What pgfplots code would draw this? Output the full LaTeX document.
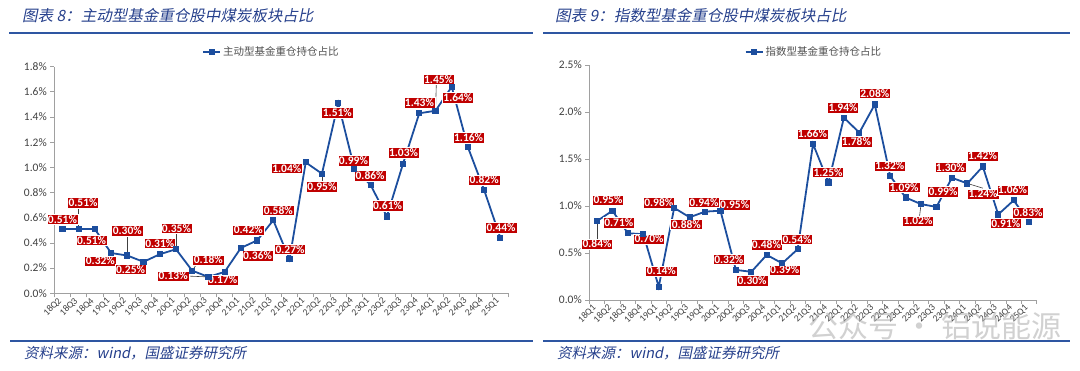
\documentclass[border=0pt]{standalone}
\usepackage{pgfplots}
\pgfplotsset{compat=1.18}
\usepackage{fontspec}
\setmainfont{Carlito}
\newfontfamily\cjk{Noto Sans CJK SC}
\newfontfamily\cjkslant{Noto Sans CJK SC}[FakeSlant=0.2]
\definecolor{lineblue}{RGB}{28,78,158}
\definecolor{lblred}{RGB}{192,0,0}
\definecolor{titleblue}{RGB}{38,64,140}
\definecolor{ruleblue}{RGB}{46,86,162}
\definecolor{axgray}{RGB}{160,160,160}
\definecolor{labgray}{RGB}{64,64,64}
\definecolor{leggray}{RGB}{80,80,80}
\tikzset{lbl/.style={fill=lblred, text=white, font=\fontsize{11.5}{12}\selectfont\bfseries, inner sep=1.2pt, draw=white, line width=0.4pt},
 ldr/.style={draw=black!75, line width=0.6pt}}
\newcommand\lb[3]{\node[lbl] at (axis cs:#1,#2) {#3\%};}
\pgfplotsset{mystyle/.style={
  scale only axis, clip=false,
  axis x line=bottom, axis y line=left,
  axis line style={-, draw=axgray, line width=0.8pt},
  tick style={draw=axgray, line width=0.8pt},
  tick align=outside, major tick length=4pt,
  x tick label as interval,
  xticklabel style={font=\fontsize{9.5}{10}\selectfont, text=labgray, rotate=45, anchor=east},
  yticklabel style={font=\fontsize{11.5}{12}\selectfont, text=labgray},
  ymin=0,
  legend style={draw=none, fill=none, font=\cjk\fontsize{10.5}{11}\selectfont, text=leggray},
}}
\begin{document}
\begin{tikzpicture}
\path[use as bounding box] (0pt,0pt) rectangle (1080pt,370pt);
% titles
\node[anchor=west, inner sep=0pt, text=titleblue, font=\fontsize{15.5}{16}\selectfont] at (22pt,354pt) {\cjkslant 图表 {\itshape 8}：主动型基金重仓股中煤炭板块占比};
\node[anchor=west, inner sep=0pt, text=titleblue, font=\fontsize{15.5}{16}\selectfont] at (555pt,354pt) {\cjkslant 图表 {\itshape 9}：指数型基金重仓股中煤炭板块占比};
\draw[ruleblue, line width=2pt] (9pt,336.5pt) -- (533pt,336.5pt);
\draw[ruleblue, line width=2pt] (543pt,336.5pt) -- (1070pt,336.5pt);
\draw[ruleblue, line width=2pt] (10pt,29pt) -- (533pt,29pt);
\draw[ruleblue, line width=2pt] (543pt,29pt) -- (1070pt,29pt);
\node[anchor=west, inner sep=0pt, text=titleblue, font=\fontsize{14.5}{15}\selectfont] at (24pt,17pt) {\cjkslant 资料来源：{\itshape wind}，国盛证券研究所};
\node[anchor=west, inner sep=0pt, text=titleblue, font=\fontsize{14.5}{15}\selectfont] at (557pt,17pt) {\cjkslant 资料来源：{\itshape wind}，国盛证券研究所};

% left chart
\begin{axis}[mystyle, at={(54.3pt,76.7pt)}, anchor=south west, width=454.2pt, height=226.6pt,
  xmin=-0.5, xmax=27.5, ymax=1.8,
  xtick={-0.5,0.5,...,27.5},
  xticklabels={18Q2,18Q3,18Q4,19Q1,19Q2,19Q3,19Q4,20Q1,20Q2,20Q3,20Q4,21Q1,21Q2,21Q3,21Q4,22Q1,22Q2,22Q3,22Q4,23Q1,23Q2,23Q3,23Q4,24Q1,24Q2,24Q3,24Q4,25Q1},
  ytick={0,0.2,0.4,0.6,0.8,1.0,1.2,1.4,1.6,1.8},
  yticklabels={0.0\%,0.2\%,0.4\%,0.6\%,0.8\%,1.0\%,1.2\%,1.4\%,1.6\%,1.8\%},
  legend style={at={(0.478,1.065)}, anchor=center}]
\addplot[lineblue, line width=1.8pt, mark=square*, mark size=2.2pt, mark options={solid}] table {
x y
0 0.51
1 0.51
2 0.51
3 0.32
4 0.30
5 0.25
6 0.31
7 0.35
8 0.18
9 0.13
10 0.17
11 0.36
12 0.42
13 0.58
14 0.27
15 1.04
16 0.95
17 1.51
18 0.99
19 0.86
20 0.61
21 1.03
22 1.43
23 1.45
24 1.64
25 1.16
26 0.82
27 0.44
};
\addlegendentry{主动型基金重仓持仓占比}
\draw[ldr] (axis cs:1,0.51) -- (axis cs:1,0.68);
\draw[ldr] (axis cs:4,0.30) -- (axis cs:4,0.46);
\draw[ldr] (axis cs:7,0.35) -- (axis cs:7,0.48);
\draw[ldr] (axis cs:8,0.18) -- (axis cs:8.3,0.235);
\draw[ldr] (axis cs:7.7,0.137) -- (axis cs:9,0.13);
\draw[ldr] (axis cs:14.7,1.0) -- (axis cs:15,1.04);
\draw[ldr] (axis cs:16,0.95) -- (axis cs:16,0.89);
\draw[ldr] (axis cs:23,1.45) -- (axis cs:23.05,1.66);
\lb{0}{0.588}{0.51}
\lb{1.27}{0.72}{0.51}
\lb{1.80}{0.42}{0.51}
\lb{2.34}{0.256}{0.32}
\lb{4.0}{0.497}{0.30}
\lb{4.2}{0.19}{0.25}
\lb{6.0}{0.397}{0.31}
\lb{7.03}{0.516}{0.35}
\lb{8.99}{0.264}{0.18}
\lb{6.83}{0.137}{0.13}
\lb{9.88}{0.106}{0.17}
\lb{12.03}{0.299}{0.36}
\lb{11.46}{0.503}{0.42}
\lb{13.31}{0.66}{0.58}
\lb{14.03}{0.35}{0.27}
\lb{13.83}{0.993}{1.04}
\lb{16.0}{0.847}{0.95}
\lb{16.95}{1.435}{1.51}
\lb{17.94}{1.053}{0.99}
\lb{18.97}{0.934}{0.86}
\lb{20.04}{0.696}{0.61}
\lb{21.03}{1.117}{1.03}
\lb{22.01}{1.514}{1.43}
\lb{23.19}{1.70}{1.45}
\lb{24.38}{1.554}{1.64}
\lb{25.04}{1.236}{1.16}
\lb{26.0}{0.90}{0.82}
\lb{27.04}{0.521}{0.44}
\end{axis}

% right chart
\begin{axis}[mystyle, at={(589.3pt,70pt)}, anchor=south west, width=447.5pt, height=235pt,
  xmin=-0.5, xmax=28.5, ymax=2.5,
  xtick={-0.5,0.5,...,28.5},
  xticklabels={18Q1,18Q2,18Q3,18Q4,19Q1,19Q2,19Q3,19Q4,20Q1,20Q2,20Q3,20Q4,21Q1,21Q2,21Q3,21Q4,22Q1,22Q2,22Q3,22Q4,23Q1,23Q2,23Q3,23Q4,24Q1,24Q2,24Q3,24Q4,25Q1},
  ytick={0,0.5,1.0,1.5,2.0,2.5},
  yticklabels={0.0\%,0.5\%,1.0\%,1.5\%,2.0\%,2.5\%},
  legend style={at={(0.502,1.055)}, anchor=center}]
\addplot[lineblue, line width=1.8pt, mark=square*, mark size=2.2pt, mark options={solid}] table {
x y
0 0.84
1 0.95
2 0.71
3 0.70
4 0.14
5 0.98
6 0.88
7 0.94
8 0.95
9 0.32
10 0.30
11 0.48
12 0.39
13 0.54
14 1.66
15 1.25
16 1.94
17 1.78
18 2.08
19 1.32
20 1.09
21 1.02
22 0.99
23 1.30
24 1.24
25 1.42
26 0.91
27 1.06
28 0.83
};
\addlegendentry{指数型基金重仓持仓占比}
\draw[ldr] (axis cs:0,0.84) -- (axis cs:0,0.65);
\draw[ldr] (axis cs:21,1.02) -- (axis cs:20.9,0.89);
\draw[ldr] (axis cs:24,1.24) -- (axis cs:25,1.19);
\lb{0}{0.596}{0.84}
\lb{0.71}{1.064}{0.95}
\lb{1.41}{0.822}{0.71}
\lb{3.37}{0.649}{0.70}
\lb{4.17}{0.309}{0.14}
\lb{4.0}{1.035}{0.98}
\lb{5.79}{0.805}{0.88}
\lb{6.93}{1.039}{0.94}
\lb{8.92}{1.014}{0.95}
\lb{8.54}{0.433}{0.32}
\lb{10.05}{0.205}{0.30}
\lb{10.98}{0.589}{0.48}
\lb{12.16}{0.319}{0.39}
\lb{12.96}{0.645}{0.54}
\lb{13.96}{1.766}{1.66}
\lb{14.97}{1.358}{1.25}
\lb{15.94}{2.046}{1.94}
\lb{16.81}{1.684}{1.78}
\lb{18.0}{2.199}{2.08}
\lb{18.97}{1.426}{1.32}
\lb{19.9}{1.199}{1.09}
\lb{20.8}{0.84}{1.02}
\lb{22.42}{1.152}{0.99}
\lb{22.9}{1.41}{1.30}
\lb{25.02}{1.128}{1.24}
\lb{24.98}{1.532}{1.42}
\lb{26.49}{0.816}{0.91}
\lb{26.92}{1.17}{1.06}
\lb{27.93}{0.929}{0.83}
\end{axis}
\node[anchor=west, inner sep=0pt, text=black!30, opacity=0.6, font=\cjk\fontsize{30}{32}\selectfont] at (808pt,44pt) {公众号 · 铝说能源};
\end{tikzpicture}
\end{document}
